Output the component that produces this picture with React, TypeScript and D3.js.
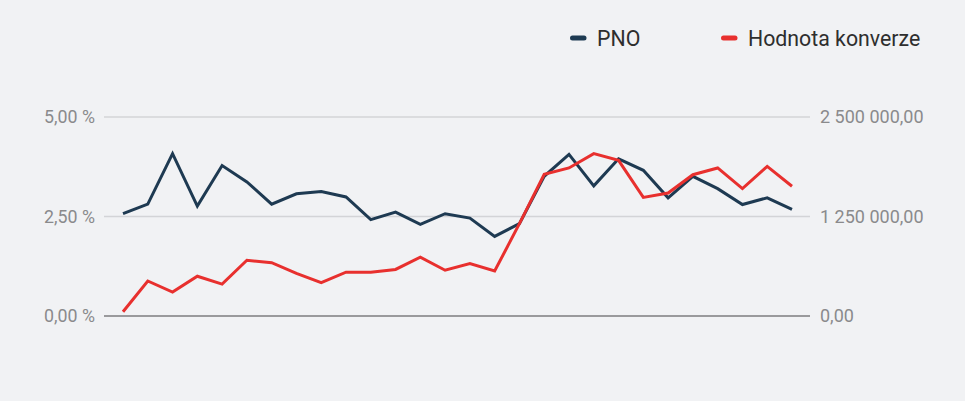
import React, { useEffect, useRef } from "react";
import * as d3 from "d3";

const days: number[] = Array.from({ length: 28 }, (_, i) => i + 1);
const pno: number[] = [
  2.57, 2.81, 4.08, 2.76, 3.78, 3.37, 2.81, 3.07, 3.13, 2.99,
  2.42, 2.61, 2.3, 2.57, 2.46, 2.0, 2.32, 3.51, 4.06, 3.27,
  3.95, 3.66, 2.97, 3.51, 3.2, 2.8, 2.97, 2.68,
];
const konverze: number[] = [
  54000, 440000, 300000, 500000, 400000, 700000, 670000, 535000, 420000, 550000,
  550000, 585000, 740000, 575000, 660000, 565000, 1160000, 1780000, 1860000, 2040000,
  1955000, 1490000, 1545000, 1775000, 1860000, 1600000, 1880000, 1630000,
];
const leftTicks: number[] = [0, 2.5, 5];
const rightTicks: number[] = [0, 1250000, 2500000];
const seriesNames: string[] = ["PNO", "Hodnota konverze"];
const seriesColors: string[] = ["#1e3a52", "#e8302e"];

const W = 965;
const H = 401;

function fmtNum(v: number): string {
  const parts = v.toFixed(2).split(".");
  const int = parts[0].replace(/\B(?=(\d{3})+(?!\d))/g, " ");
  return int + "," + parts[1];
}

export default function App() {
  const ref = useRef<SVGSVGElement>(null);
  useEffect(() => {
    const svg = d3.select(ref.current);
    svg.selectAll("*").remove();
    const font = "Roboto, sans-serif";
    svg.append("rect").attr("width", W).attr("height", H).attr("fill", "#f1f2f4");

    const x = d3.scalePoint<number>().domain(days).range([123, 792]);
    const yL = d3.scaleLinear().domain([0, 5]).range([316, 117]);
    const yR = d3.scaleLinear().domain([0, 2500000]).range([316, 117]);
    const gx0 = 104, gx1 = 810;

    leftTicks.forEach((t) => {
      svg.append("line")
        .attr("x1", gx0).attr("x2", gx1)
        .attr("y1", yL(t)).attr("y2", yL(t))
        .attr("stroke", t === 0 ? "#9a9a9c" : "#d3d4d7")
        .attr("stroke-width", t === 0 ? 2 : 1.5);
      svg.append("text")
        .attr("x", 95).attr("y", yL(t))
        .attr("dy", "0.36em")
        .attr("text-anchor", "end")
        .attr("font-family", font).attr("font-size", 17.8)
        .attr("fill", "#8a8a8c")
        .text(fmtNum(t) + " %");
    });
    rightTicks.forEach((t) => {
      svg.append("text")
        .attr("x", 820).attr("y", yR(t))
        .attr("dy", "0.36em")
        .attr("text-anchor", "start")
        .attr("font-family", font).attr("font-size", 18)
        .attr("fill", "#8a8a8c")
        .text(fmtNum(t));
    });

    const lineL = d3.line<number>().x((_, i) => x(days[i]) as number).y((d) => yL(d));
    const lineR = d3.line<number>().x((_, i) => x(days[i]) as number).y((d) => yR(d));

    svg.append("path").attr("d", lineL(pno) as string)
      .attr("fill", "none").attr("stroke", seriesColors[0]).attr("stroke-width", 3)
      .attr("stroke-linejoin", "miter");
    svg.append("path").attr("d", lineR(konverze) as string)
      .attr("fill", "none").attr("stroke", seriesColors[1]).attr("stroke-width", 3)
      .attr("stroke-linejoin", "miter");

    const legendX = [570, 721];
    seriesNames.forEach((n, i) => {
      svg.append("line")
        .attr("x1", legendX[i] + 2.5).attr("x2", legendX[i] + 14)
        .attr("y1", 38).attr("y2", 38)
        .attr("stroke", seriesColors[i]).attr("stroke-width", 5)
        .attr("stroke-linecap", "round");
      svg.append("text")
        .attr("x", legendX[i] + 27).attr("y", 38)
        .attr("dy", "0.36em")
        .attr("font-family", font).attr("font-size", 21.3)
        .attr("fill", "#2e2e2e")
        .text(n);
    });
  }, []);
  return (
    <div style={{ position: "fixed", left: 0, top: 0 }}>
      <svg ref={ref} width={W} height={H} style={{ display: "block" }} />
    </div>
  );
}
